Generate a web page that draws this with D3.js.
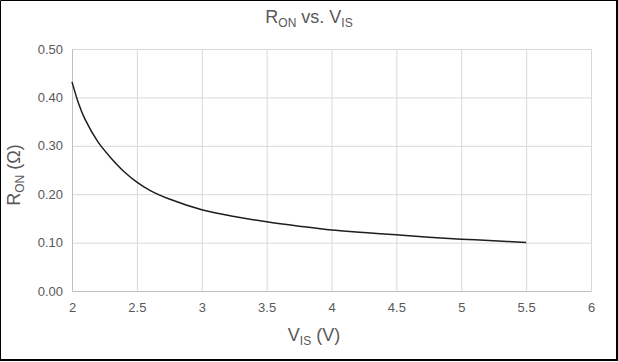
<!DOCTYPE html>
<html>
<head>
<meta charset="utf-8">
<script src="https://cdn.jsdelivr.net/npm/d3@7"></script>
<style>
    body { margin: 0; background: #fff; }
    svg { display: block; font-family: 'Liberation Sans', Arial, sans-serif; }
</style>
</head>
<body>
<div id="chart"></div>
<script>
// Switch input voltage (V) and on-resistance (ohm)
const vis = [2.0, 2.05, 2.1, 2.2, 2.3, 2.4, 2.5, 2.6, 2.75, 3.0, 3.25, 3.5, 3.75, 4.0, 4.25, 4.5, 4.75, 5.0, 5.25, 5.5];
const ron = [0.432, 0.388, 0.355, 0.308, 0.275, 0.247, 0.225, 0.208, 0.190, 0.168, 0.154, 0.143, 0.134, 0.126, 0.121, 0.116, 0.111, 0.107, 0.104, 0.100];
const xTicks = [2, 2.5, 3, 3.5, 4, 4.5, 5, 5.5, 6];
const yTicks = [0, 0.1, 0.2, 0.3, 0.4, 0.5];

const data = vis.map((v, i) => ({ v, r: ron[i] }));

const width = 618;
const height = 362;
const margin = { top: 49, right: 27, bottom: 71, left: 72 };

const svg = d3.select('#chart')
    .append('svg')
    .attr('width', width)
    .attr('height', height);

const xScale = d3.scaleLinear()
    .domain([2, 6])
    .range([margin.left, width - margin.right]);

const yScale = d3.scaleLinear()
    .domain([0, 0.5])
    .range([height - margin.bottom, margin.top]);

// gridlines
svg.append('g')
    .attr('transform', `translate(0, ${margin.top})`)
    .call(d3.axisBottom(xScale).tickValues(xTicks).tickFormat('')
        .tickSize(height - margin.bottom - margin.top))
    .call((g) => g.select('.domain').remove())
    .selectAll('line')
    .attr('stroke', '#d9d9d9');

svg.append('g')
    .attr('transform', `translate(${margin.left}, 0)`)
    .call(d3.axisRight(yScale).tickValues(yTicks).tickFormat('')
        .tickSize(width - margin.right - margin.left))
    .call((g) => g.select('.domain').remove())
    .selectAll('line')
    .attr('stroke', '#d9d9d9');

// axes
const xAxis = svg.append('g')
    .attr('transform', `translate(0, ${yScale(0)})`)
    .call(d3.axisBottom(xScale).tickValues(xTicks).tickSize(0).tickPadding(12)
        .tickFormat(d3.format('~g')));

const yAxis = svg.append('g')
    .attr('transform', `translate(${margin.left}, 0)`)
    .call(d3.axisLeft(yScale).tickValues(yTicks).tickSize(0).tickPadding(9)
        .tickFormat(d3.format('.2f')));

[xAxis, yAxis].forEach((g) => {
    g.select('.domain').attr('stroke', '#bfbfbf');
    g.selectAll('text')
        .attr('fill', '#595959')
        .style('font-size', '13px')
        .style('font-family', "'Liberation Sans', Arial, sans-serif");
});

// curve
const line = d3.line()
    .x((d) => xScale(d.v))
    .y((d) => yScale(d.r))
    .curve(d3.curveCatmullRom.alpha(0.5));

svg.append('path')
    .datum(data)
    .attr('fill', 'none')
    .attr('stroke', '#1e1e1e')
    .attr('stroke-width', 1.5)
    .attr('d', line);

// text with subscripts
function subText(parent, parts) {
    const t = parent.append('text')
        .attr('fill', '#595959')
        .attr('text-anchor', 'middle')
        .style('font-size', '18px');
    parts.forEach(([s, sub]) => {
        t.append('tspan')
            .attr('dy', sub ? 4 : (t.selectAll('tspan').size() > 0 ? -4 : 0))
            .style('font-size', sub ? '12px' : '18px')
            .text(s);
    });
    return t;
}

subText(svg, [['R', false], ['ON', true], [' vs. V', false], ['IS', true]])
    .attr('x', 309)
    .attr('y', 27);

subText(svg, [['V', false], ['IS', true], [' (V)', false]])
    .attr('x', 314)
    .attr('y', 345);

subText(svg, [['R', false], ['ON', true], [' (Ω)', false]])
    .attr('transform', 'translate(24, 175) rotate(-90)');

// chart border
svg.append('path')
    .attr('d', `M0.5,361 V0.5 H617`)
    .attr('fill', 'none')
    .attr('stroke', '#000');
svg.append('path')
    .attr('d', `M0,360 H617 V0`)
    .attr('fill', 'none')
    .attr('stroke', '#000')
    .attr('stroke-width', 2);
</script>
</body>
</html>
